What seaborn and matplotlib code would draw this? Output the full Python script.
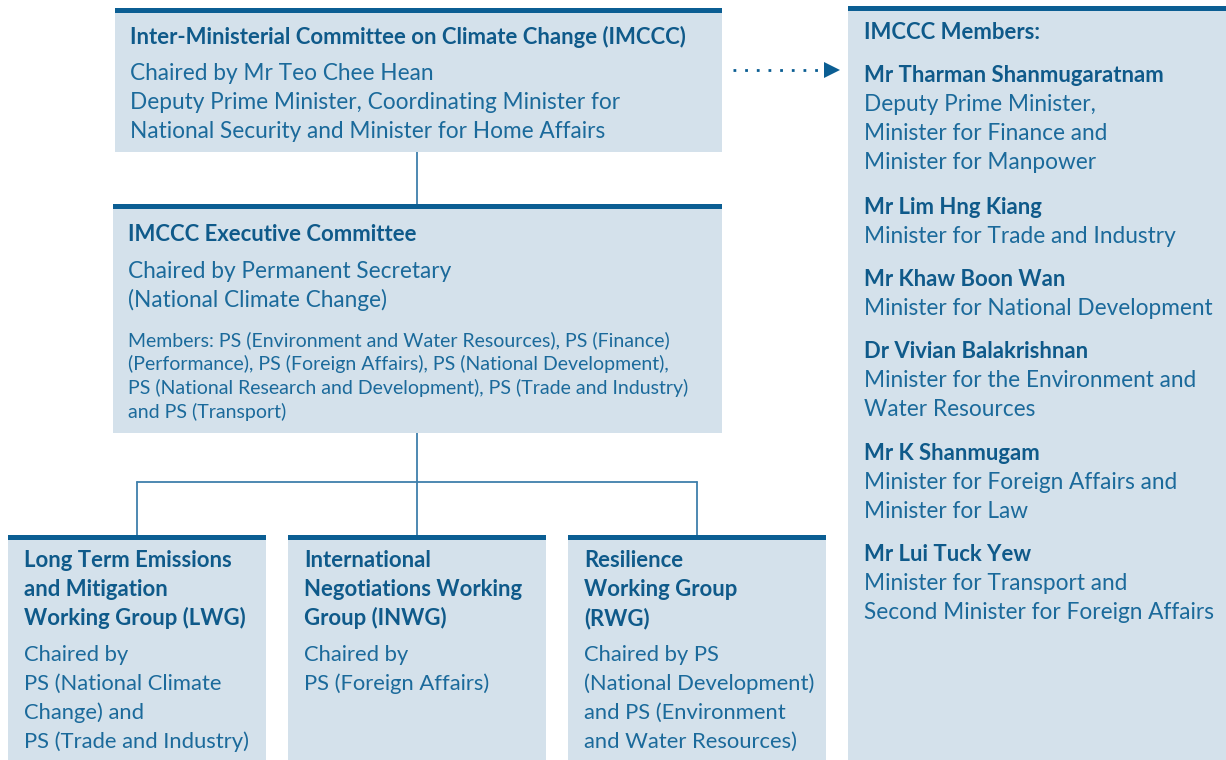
"""
IMCCC organisation chart.
"""
import seaborn as sns
import matplotlib.pyplot as plt
from matplotlib.patches import Rectangle

# Text content of the chart
top_title = ["Inter-Ministerial Committee on Climate Change (IMCCC)"]
top_body = ["Chaired by Mr Teo Chee Hean",
            "Deputy Prime Minister, Coordinating Minister for",
            "National Security and Minister for Home Affairs"]

exec_title = ["IMCCC Executive Committee"]
exec_body = ["Chaired by Permanent Secretary",
             "(National Climate Change)"]
exec_members = ["Members: PS (Environment and Water Resources), PS (Finance)",
                "(Performance), PS (Foreign Affairs), PS (National Development),",
                "PS (National Research and Development), PS (Trade and Industry)",
                "and PS (Transport)"]

group_titles = [
    ["Long Term Emissions", "and Mitigation", "Working Group (LWG)"],
    ["International", "Negotiations Working", "Group (INWG)"],
    ["Resilience", "Working Group", "(RWG)"],
]
group_chairs = [
    ["Chaired by", "PS (National Climate", "Change) and", "PS (Trade and Industry)"],
    ["Chaired by", "PS (Foreign Affairs)"],
    ["Chaired by PS", "(National Development)", "and PS (Environment", "and Water Resources)"],
]

members_header = "IMCCC Members:"
member_names = ["Mr Tharman Shanmugaratnam", "Mr Lim Hng Kiang", "Mr Khaw Boon Wan",
                "Dr Vivian Balakrishnan", "Mr K Shanmugam", "Mr Lui Tuck Yew"]
member_roles = [
    ["Deputy Prime Minister,", "Minister for Finance and", "Minister for Manpower"],
    ["Minister for Trade and Industry"],
    ["Minister for National Development"],
    ["Minister for the Environment and", "Water Resources"],
    ["Minister for Foreign Affairs and", "Minister for Law"],
    ["Minister for Transport and", "Second Minister for Foreign Affairs"],
]

FILL = "#d4e1eb"
BAR = "#0b5e93"
TXT = "#1b6a9b"
BOLD = "#0f5a8a"
LINE = "#3f7fab"

FS = 16.3      # regular text
FS_B = 15.9    # bold headings
FS_S = 14.0    # small members text
LH = 29        # line height in px


def box(ax, x0, y0, x1, y1, bar=True):
    ax.add_patch(Rectangle((x0, y0), x1 - x0, y1 - y0, facecolor=FILL,
                           edgecolor="none", zorder=1))
    if bar:
        ax.add_patch(Rectangle((x0, y0), x1 - x0, 4.5, facecolor=BAR,
                               edgecolor="none", zorder=2))


def lines(ax, x, y, rows, bold=False, size=None, step=LH):
    if size is None:
        size = FS_B if bold else FS
    for i, row in enumerate(rows):
        ax.text(x, y + i * step, row, fontsize=size, va="baseline", ha="left",
                color=BOLD if bold else TXT,
                fontweight="bold" if bold else "normal", zorder=3)
    return y + len(rows) * step


def main():
    sns.set_theme(style="white")
    plt.rcParams["font.family"] = ["Lato", "DejaVu Sans"]

    fig = plt.figure(figsize=(12.26, 7.6), dpi=100)
    ax = fig.add_axes([0, 0, 1, 1])
    ax.set_xlim(0, 1226)
    ax.set_ylim(760, 0)
    ax.axis("off")

    # connectors
    kw = dict(color=LINE, lw=1.3, zorder=0)
    ax.plot([417, 417], [152, 204], **kw)
    ax.plot([417, 417], [433, 482], **kw)
    ax.plot([137, 697], [482, 482], **kw)
    for xc in [137, 417, 697]:
        ax.plot([xc, xc], [482, 536], **kw)

    # dotted arrow to members
    ax.plot([733, 824], [70, 70], color=BAR, lw=2, linestyle=(0, (1, 3.2)))
    ax.plot([832], [70], marker=">", markersize=11, color=BAR, markeredgewidth=0)

    # top box
    box(ax, 115, 8, 722, 152)
    lines(ax, 130, 44, top_title, bold=True)
    lines(ax, 130, 80, top_body)

    # executive committee
    box(ax, 113, 204, 722, 433)
    lines(ax, 128, 241, exec_title, bold=True)
    lines(ax, 128, 278, exec_body)
    lines(ax, 128, 346, exec_members, size=FS_S, step=24)

    # working groups
    for k, x0 in enumerate([8, 288, 568]):
        box(ax, x0, 535, x0 + 258, 770)
        lines(ax, x0 + 16, 567, group_titles[k], bold=True)
        lines(ax, x0 + 16, 661, group_chairs[k], size=15.8)

    # members panel
    box(ax, 848, 6, 1236, 770)
    lines(ax, 864, 39, [members_header], bold=True)
    starts = [82, 214, 286, 358, 460, 561]
    for name, roles, y in zip(member_names, member_roles, starts):
        lines(ax, 864, y, [name], bold=True)
        lines(ax, 864, y + 29, roles)

    fig.savefig("out.png", dpi=100)


if __name__ == "__main__":
    main()
